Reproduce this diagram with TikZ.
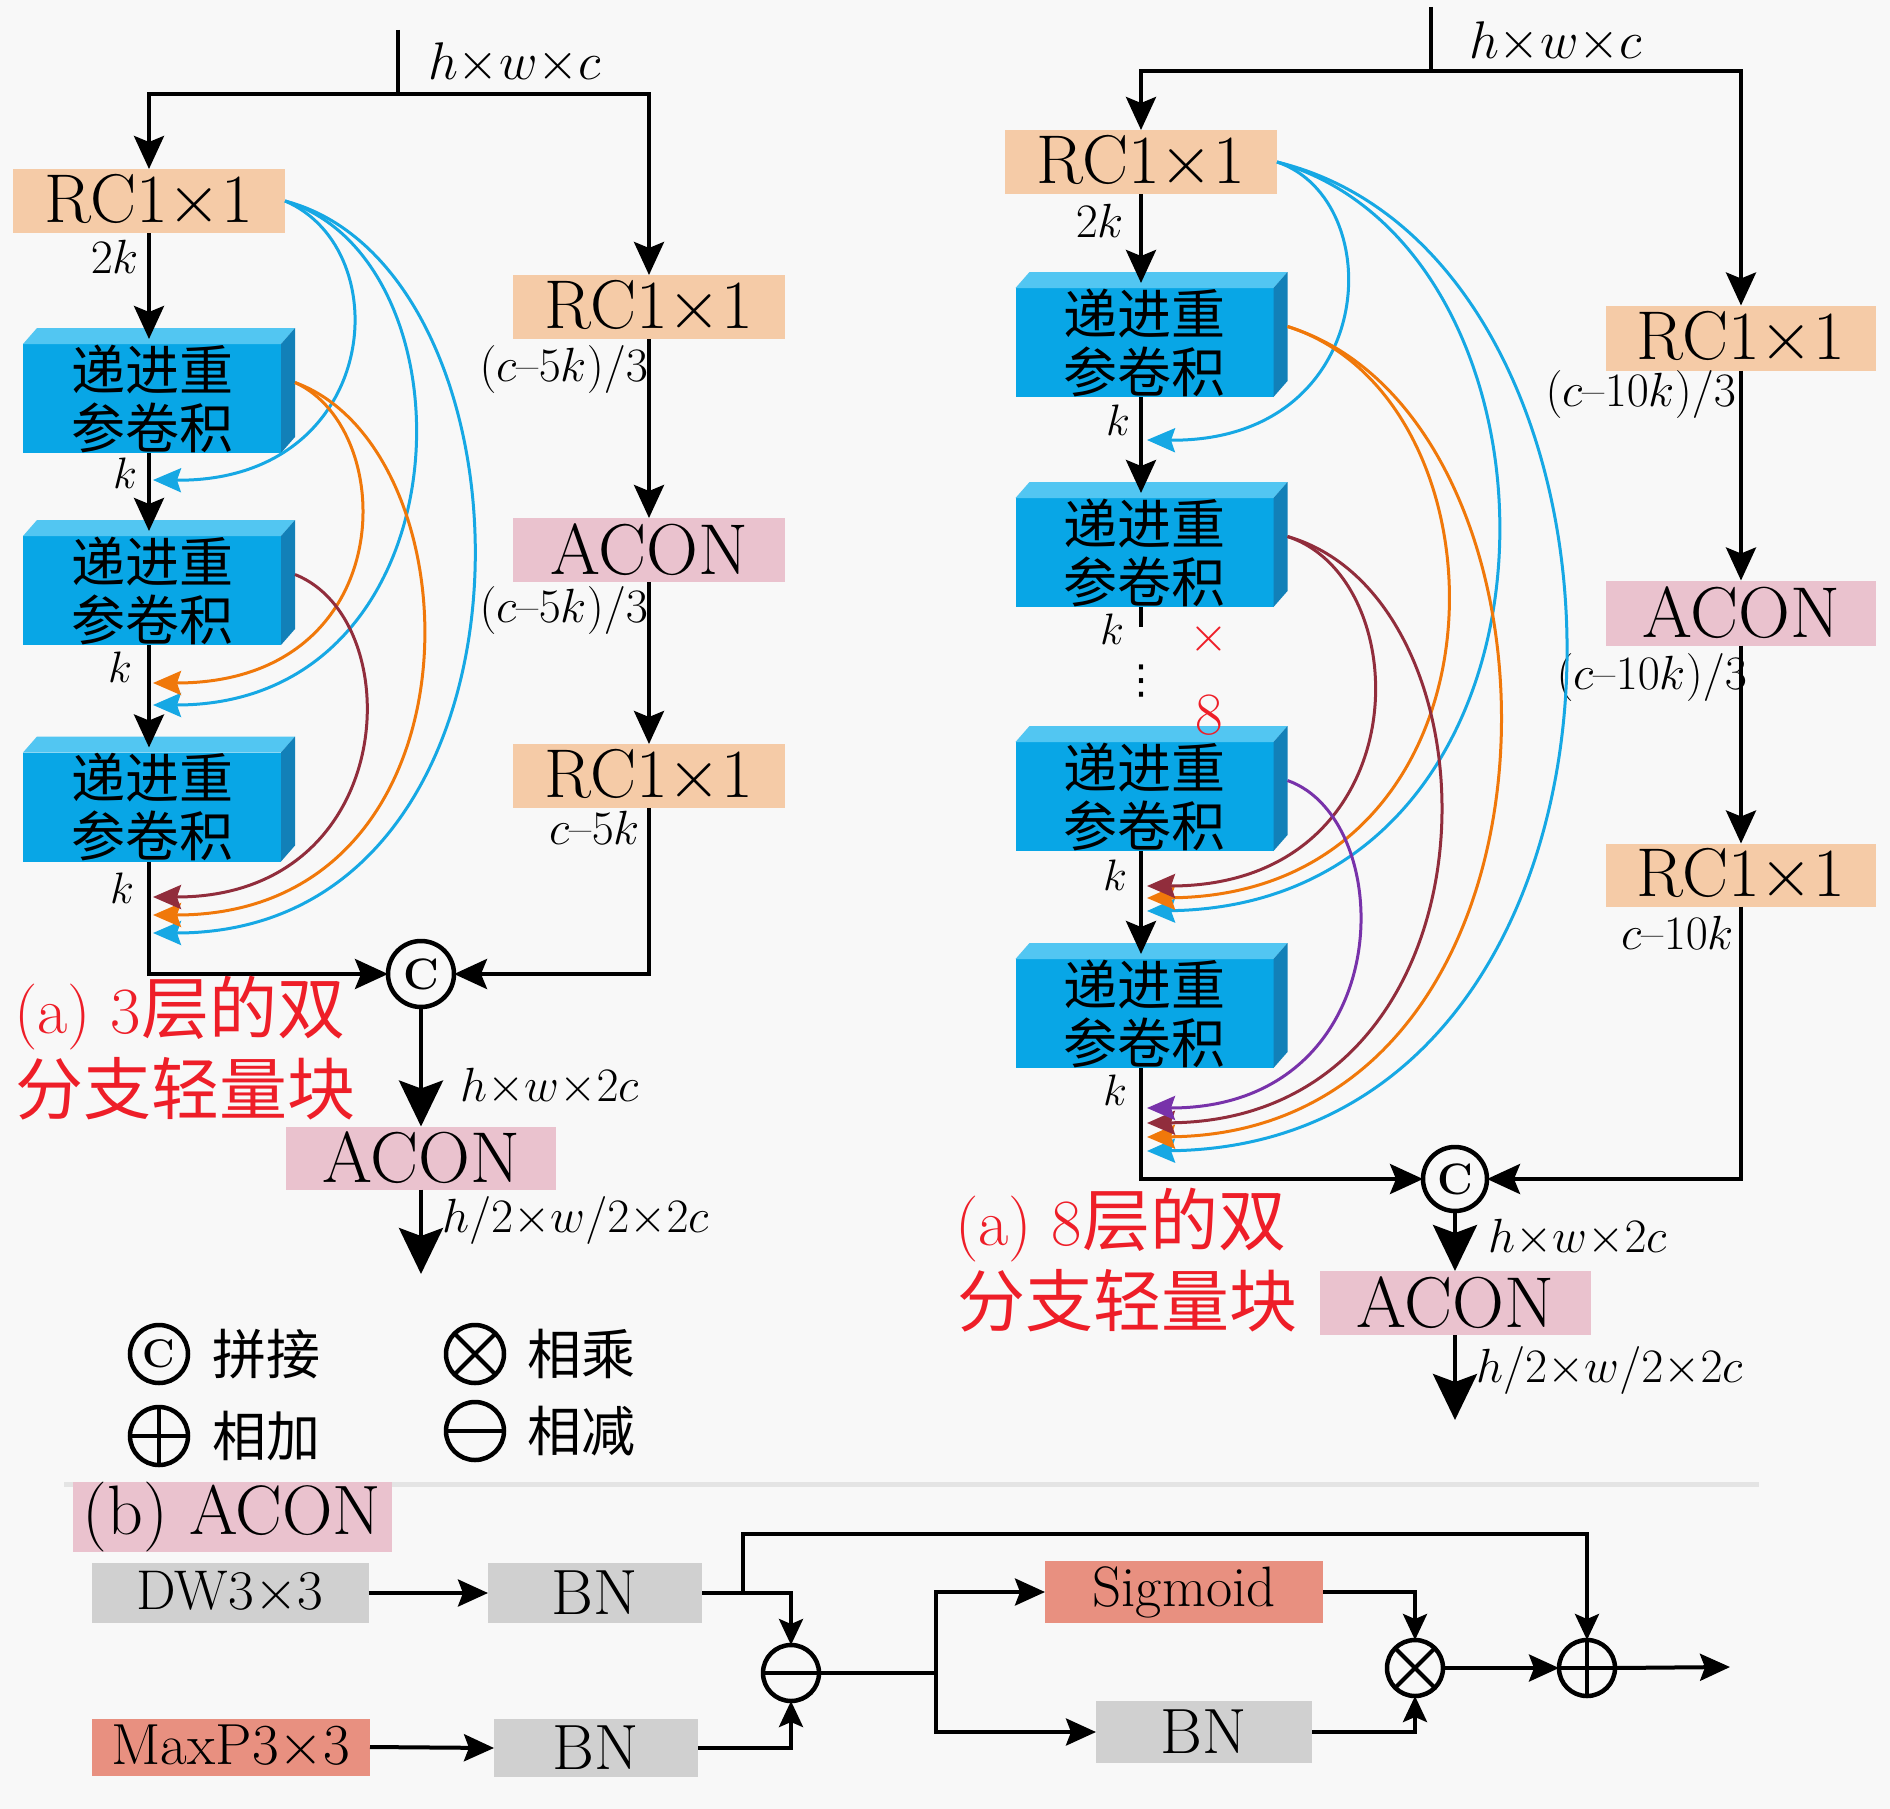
\RequirePackage{fix-cm}
\documentclass[tikz,border=0pt]{standalone}
\usepackage{fontspec}
\newfontfamily\cjk{Noto Sans CJK SC}
\newfontfamily\dejavu{DejaVu Sans}
\usetikzlibrary{arrows.meta,calc}
\definecolor{bg}{RGB}{248,248,248}
\definecolor{rcfill}{RGB}{245,203,167}
\definecolor{aconfill}{RGB}{234,194,206}
\definecolor{blkfront}{RGB}{8,166,230}
\definecolor{blktop}{RGB}{82,198,242}
\definecolor{blkside}{RGB}{18,128,184}
\definecolor{grayfill}{RGB}{208,208,208}
\definecolor{salmon}{RGB}{232,144,128}
\definecolor{cyanc}{RGB}{22,168,228}
\definecolor{orangec}{RGB}{240,120,10}
\definecolor{maroonc}{RGB}{145,45,60}
\definecolor{purplec}{RGB}{120,50,170}
\definecolor{capred}{RGB}{238,30,40}
\definecolor{sepgray}{RGB}{228,228,228}
\newcommand\fsz[1]{\fontsize{#1}{#1}\selectfont}
\newcommand\md{\mbox{\normalfont\char"2013}}
\newcommand\myblk[3]{%
  \node[blockface] (#1) at (#2,#3) {递进重\\参卷积};
  \fill[blktop] (#1.north west) -- ++(14,-16) -- ($(#1.north east)+(14,-16)$) -- (#1.north east) -- cycle;
  \fill[blkside] (#1.north east) -- ++(14,-16) -- ($(#1.south east)+(14,-16)$) -- (#1.south east) -- cycle;
}
\tikzset{
  every node/.style={inner sep=0pt, outer sep=0pt},
  ln/.style={line width=4pt, draw=black},
  rcbox/.style={fill=rcfill, minimum width=272pt, minimum height=64pt, font=\fsz{69}},
  aconbox/.style={fill=aconfill, minimum width=272pt, minimum height=64pt, font=\fsz{72}},
  blockface/.style={fill=blkfront, minimum width=258pt, minimum height=109pt, align=center, font=\cjk\fontsize{54}{58}\selectfont},
  lab/.style={font=\fsz{48}},
  labk/.style={font=\fsz{44}},
  labh/.style={font=\fsz{48}, anchor=west},
  catc/.style={circle, draw=black, line width=4.5pt, fill=bg, minimum size=66pt, font=\fsz{44}\bfseries},
  opc/.style={circle, draw=black, line width=4.5pt, fill=bg, minimum size=56pt},
  cjklab/.style={font=\cjk\fsz{54}, anchor=west},
  graybox/.style={fill=grayfill, minimum height=60pt, font=\fsz{64}},
  arrbig/.style={-{Stealth[length=33pt,width=30pt,inset=6pt]}},
  arrhuge/.style={-{Stealth[length=46pt,width=44pt,inset=8pt]}},
  arrb/.style={-{Stealth[length=30pt,width=27pt,inset=5pt]}},
  arrs/.style={-{Stealth[length=26pt,width=24pt,inset=5pt]}},
  cur/.style={line width=3pt, -{Stealth[length=28pt,width=24pt,inset=4pt]}},
}
\begin{document}
\begin{tikzpicture}[x=1pt,y=-1pt]
\fill[bg] (0,0) rectangle (1890,1809);
\useasboundingbox (0,0) rectangle (1890,1809);

%================ LEFT (3 layers) =================
\coordinate (inL) at (398,30);
\coordinate (spL) at (398,94);
\node[rcbox] (rcL1) at (149,201) {RC1$\times$1};
\node[rcbox] (rcL2) at (649,307) {RC1$\times$1};
\node[aconbox] (acL1) at (649,550) {ACON};
\node[rcbox] (rcL3) at (649,776) {RC1$\times$1};
\myblk{bL1}{152}{398.5}
\myblk{bL2}{152}{590.5}
\myblk{bL3}{152}{807}
\node[catc] (catL) at (421,974) {C};
\node[aconbox, minimum width=270pt, minimum height=63pt] (acL2) at (421,1158) {ACON};
\coordinate (outL) at (421,1274);

\draw[ln] (inL) -- (spL);
\draw[ln,arrbig] (spL) -| (rcL1.north);
\draw[ln,arrbig] (spL) -| (rcL2.north);
\draw[ln,arrbig] (rcL1.south) -- ($(rcL1.south |- bL1.north)+(0,-5)$);
\draw[ln,arrbig] (rcL1.south |- bL1.south) -- ($(rcL1.south |- bL2.north)+(0,-5)$);
\draw[ln,arrbig] (rcL1.south |- bL2.south) -- ($(rcL1.south |- bL3.north)+(0,-5)$);
\draw[ln,arrbig] (rcL1.south |- bL3.south) |- (catL.west);
\draw[ln,arrbig] (rcL2.south) -- (acL1.north);
\draw[ln,arrbig] (acL1.south) -- (rcL3.north);
\draw[ln,arrbig] (rcL3.south) |- (catL.east);
\draw[ln,arrhuge] (catL.south) -- (acL2.north);
\draw[ln,arrhuge] (acL2.south) -- (outL);

\node[font=\fsz{53}, anchor=west] (tL) at (428,63) {$h{\times}w{\times}c$};
\node[font=\fsz{48}] (l2kL) at (115,257) {$2k$};
\node[labk] (lk1) at (125,473) {$k$};
\node[labk] (lk2) at (120,667) {$k$};
\node[labk] (lk3) at (122,888) {$k$};
\node[lab, anchor=east] (la1) at (648,369) {$(c\md5k)/3$};
\node[lab, anchor=east] (la2) at (648,610) {$(c\md5k)/3$};
\node[lab, anchor=east] (la3) at (640,828) {$c\md5k$};
\node[labh] (lh1) at (460,1087) {$h{\times}w{\times}2c$};
\node[labh] (lh2) at (442,1220) {$h/2{\times}w/2{\times}2c$};
\node[anchor=west, text=capred] (capL1) at (14,1013) {\fsz{66}(a) 3{\cjk\fsz{68}层的双}};
\node[anchor=west, text=capred] (capL2) at (16,1089) {\cjk\fsz{68}分支轻量块};

\coordinate (eL1) at (153,480);
\coordinate (eL2o) at (153,683);
\coordinate (eL2c) at (153,705);
\coordinate (eL3m) at (153,897);
\coordinate (eL3o) at (153,915);
\coordinate (eL3c) at (153,933);
\draw[cur, cyanc] (rcL1.east) .. controls (400,250) and (380,482) .. (eL1);
\draw[cur, cyanc] (rcL1.east) .. controls (480,260) and (470,705) .. (eL2c);
\draw[cur, cyanc] (rcL1.east) .. controls (550,270) and (560,933) .. (eL3c);
\draw[cur, orangec] ($(bL1.east)+(14,-16)$) .. controls (400,430) and (400,683) .. (eL2o);
\draw[cur, orangec] ($(bL1.east)+(14,-16)$) .. controls (480,450) and (490,915) .. (eL3o);
\draw[cur, maroonc] ($(bL2.east)+(14,-16)$) .. controls (410,620) and (400,897) .. (eL3m);

%================ RIGHT (8 layers) =================
\coordinate (inR) at (1431,7);
\coordinate (spR) at (1431,71);
\node[rcbox] (rcR1) at (1141,162) {RC1$\times$1};
\node[rcbox, minimum width=270pt, minimum height=65pt] (rcR2) at (1741,338) {RC1$\times$1};
\node[aconbox, minimum width=270pt, minimum height=65pt] (acR1) at (1741,613) {ACON};
\node[rcbox, minimum width=270pt, minimum height=63pt] (rcR3) at (1741,875) {RC1$\times$1};
\myblk{bR1}{1144.5}{342.5}
\myblk{bR2}{1144.5}{552.5}
\myblk{bR3}{1144.5}{796.5}
\myblk{bR4}{1144.5}{1013.5}
\node[catc, minimum size=64pt] (catR) at (1455,1179) {C};
\node[aconbox, minimum width=271pt, minimum height=64pt] (acR2) at (1455,1303) {ACON};
\coordinate (outR) at (1455,1420);

\draw[ln] (inR) -- (spR);
\draw[ln,arrbig] (spR) -| (rcR1.north);
\draw[ln,arrbig] (spR) -| (rcR2.north);
\draw[ln,arrbig] (rcR1.south) -- ($(rcR1.south |- bR1.north)+(0,-5)$);
\draw[ln,arrbig] (rcR1.south |- bR1.south) -- ($(rcR1.south |- bR2.north)+(0,-5)$);
\draw[ln] (rcR1.south |- bR2.south) -- ++(0,20);
\draw[ln,arrbig] (rcR1.south |- bR3.south) -- ($(rcR1.south |- bR4.north)+(0,-5)$);
\draw[ln,arrbig] (rcR1.south |- bR4.south) |- (catR.west);
\draw[ln,arrbig] (rcR2.south) -- (acR1.north);
\draw[ln,arrbig] (acR1.south) -- (rcR3.north);
\draw[ln,arrbig] (rcR3.south) |- (catR.east);
\draw[ln,arrhuge] (catR.south) -- (acR2.north);
\draw[ln,arrhuge] (acR2.south) -- (outR);

\node[font=\fsz{53}, anchor=west] (tR) at (1469,42) {$h{\times}w{\times}c$};
\node[font=\fsz{48}] (r2k) at (1100,221) {$2k$};
\node[labk] (rk1) at (1118,420) {$k$};
\node[labk] (rk2) at (1112,629) {$k$};
\node[font=\fsz{50}, text=capred] (rx) at (1209,639) {$\times$};
\node[font=\dejavu\fsz{40}] (rdots) at (1141,681) {⋮};
\node[font=\fsz{60}, text=capred] (r8) at (1209,715) {8};
\node[labk] (rk3) at (1115,875) {$k$};
\node[labk] (rk4) at (1115,1090) {$k$};
\node[lab, anchor=east] (ra1) at (1736,394) {$(c\md10k)/3$};
\node[lab, anchor=east] (ra2) at (1747,677) {$(c\md10k)/3$};
\node[lab, anchor=east] (ra3) at (1734,933) {$c\md10k$};
\node[labh] (rh1) at (1488,1238) {$h{\times}w{\times}2c$};
\node[labh] (rh2) at (1476,1370) {$h/2{\times}w/2{\times}2c$};
\node[anchor=west, text=capred] (capR1) at (955,1225) {\fsz{66}(a) 8{\cjk\fsz{68}层的双}};
\node[anchor=west, text=capred] (capR2) at (957,1301) {\cjk\fsz{68}分支轻量块};

\coordinate (eR1) at (1147,440);
\coordinate (eR3m) at (1147,886);
\coordinate (eR3o) at (1147,898);
\coordinate (eR3c) at (1147,911);
\coordinate (eR4p) at (1147,1108);
\coordinate (eR4m) at (1147,1123);
\coordinate (eR4o) at (1147,1137);
\coordinate (eR4c) at (1147,1151);
\draw[cur, cyanc] (rcR1.east) .. controls (1390,200) and (1380,442) .. (eR1);
\draw[cur, cyanc] (rcR1.east) .. controls (1590,250) and (1590,905) .. (eR3c);
\draw[cur, cyanc] (rcR1.east) .. controls (1680,260) and (1680,1145) .. (eR4c);
\draw[cur, orangec] ($(bR1.east)+(14,-16)$) .. controls (1520,400) and (1520,895) .. (eR3o);
\draw[cur, orangec] ($(bR1.east)+(14,-16)$) .. controls (1590,420) and (1590,1133) .. (eR4o);
\draw[cur, maroonc] ($(bR2.east)+(14,-16)$) .. controls (1420,580) and (1420,886) .. (eR3m);
\draw[cur, maroonc] ($(bR2.east)+(14,-16)$) .. controls (1510,600) and (1510,1120) .. (eR4m);
\draw[cur, purplec] ($(bR3.east)+(14,-16)$) .. controls (1400,820) and (1400,1108) .. (eR4p);

%================ LEGEND =================
\node[opc, minimum size=58pt, font=\fsz{40}\bfseries] (lgC) at (159,1354) {C};
\node[cjklab] (lgCt) at (212,1354) {拼接};
\node[opc, minimum size=58pt] (lgM) at (475,1354) {};
\draw[line width=4pt] (lgM.north west) -- (lgM.south east) (lgM.north east) -- (lgM.south west);
\node[cjklab] (lgMt) at (527,1354) {相乘};
\node[opc, minimum size=58pt] (lgA) at (159,1436) {};
\draw[line width=4pt] (lgA.north) -- (lgA.south) (lgA.west) -- (lgA.east);
\node[cjklab] (lgAt) at (212,1436) {相加};
\node[opc, minimum size=58pt] (lgS) at (475,1431) {};
\draw[line width=4pt] (lgS.west) -- (lgS.east);
\node[cjklab] (lgSt) at (527,1431) {相减};

\draw[sepgray, line width=5pt] (64,1484) -- (1759,1484);

%================ (b) ACON =================
\node[fill=aconfill, minimum width=319pt, minimum height=70pt, font=\fsz{70}] (bttl) at (232,1517) {(b) ACON};
\node[graybox, minimum width=277pt, font=\fsz{56}] (dw) at (230,1593) {DW3$\times$3};
\node[graybox, minimum width=214pt] (bn1) at (595,1593) {BN};
\node[graybox, fill=salmon, minimum width=278pt, minimum height=57pt, font=\fsz{58}] (mp) at (231,1747) {MaxP3$\times$3};
\node[graybox, minimum width=204pt, minimum height=58pt] (bn2) at (596,1748) {BN};
\node[opc] (sub) at (791,1673) {};
\draw[line width=4pt] (sub.west) -- (sub.east);
\node[graybox, fill=salmon, minimum width=278pt, minimum height=62pt, font=\fsz{57}] (sig) at (1184,1592) {Sigmoid};
\node[graybox, minimum width=216pt, minimum height=62pt] (bn3) at (1204,1732) {BN};
\node[opc] (mul) at (1415,1668) {};
\draw[line width=4pt] (mul.north west) -- (mul.south east) (mul.north east) -- (mul.south west);
\node[opc] (add) at (1587,1668) {};
\draw[line width=4pt] (add.north) -- (add.south) (add.west) -- (add.east);
\coordinate (brB) at (743,1593);
\coordinate (topB) at (1587,1534);
\coordinate (spB) at (936,1673);
\coordinate (outB) at (1730,1667);

\draw[ln,arrb] (dw.east) -- (bn1.west);
\draw[ln,arrb] (mp.east) -- (bn2.west);
\draw[ln,arrs] (bn1.east) -| (sub.north);
\draw[ln,arrs] (bn2.east) -| (sub.south);
\draw[ln,arrs] (brB) |- (topB) -- (add.north);
\draw[ln] (sub.east) -- (spB);
\draw[ln,arrb] (spB) |- (sig.west);
\draw[ln,arrb] (spB) |- (bn3.west);
\draw[ln,arrs] (sig.east) -| (mul.north);
\draw[ln,arrs] (bn3.east) -| (mul.south);
\draw[ln,arrb] (mul.east) -- (add.west);
\draw[ln,arrb] (add.east) -- (outB);
\end{tikzpicture}
\end{document}
